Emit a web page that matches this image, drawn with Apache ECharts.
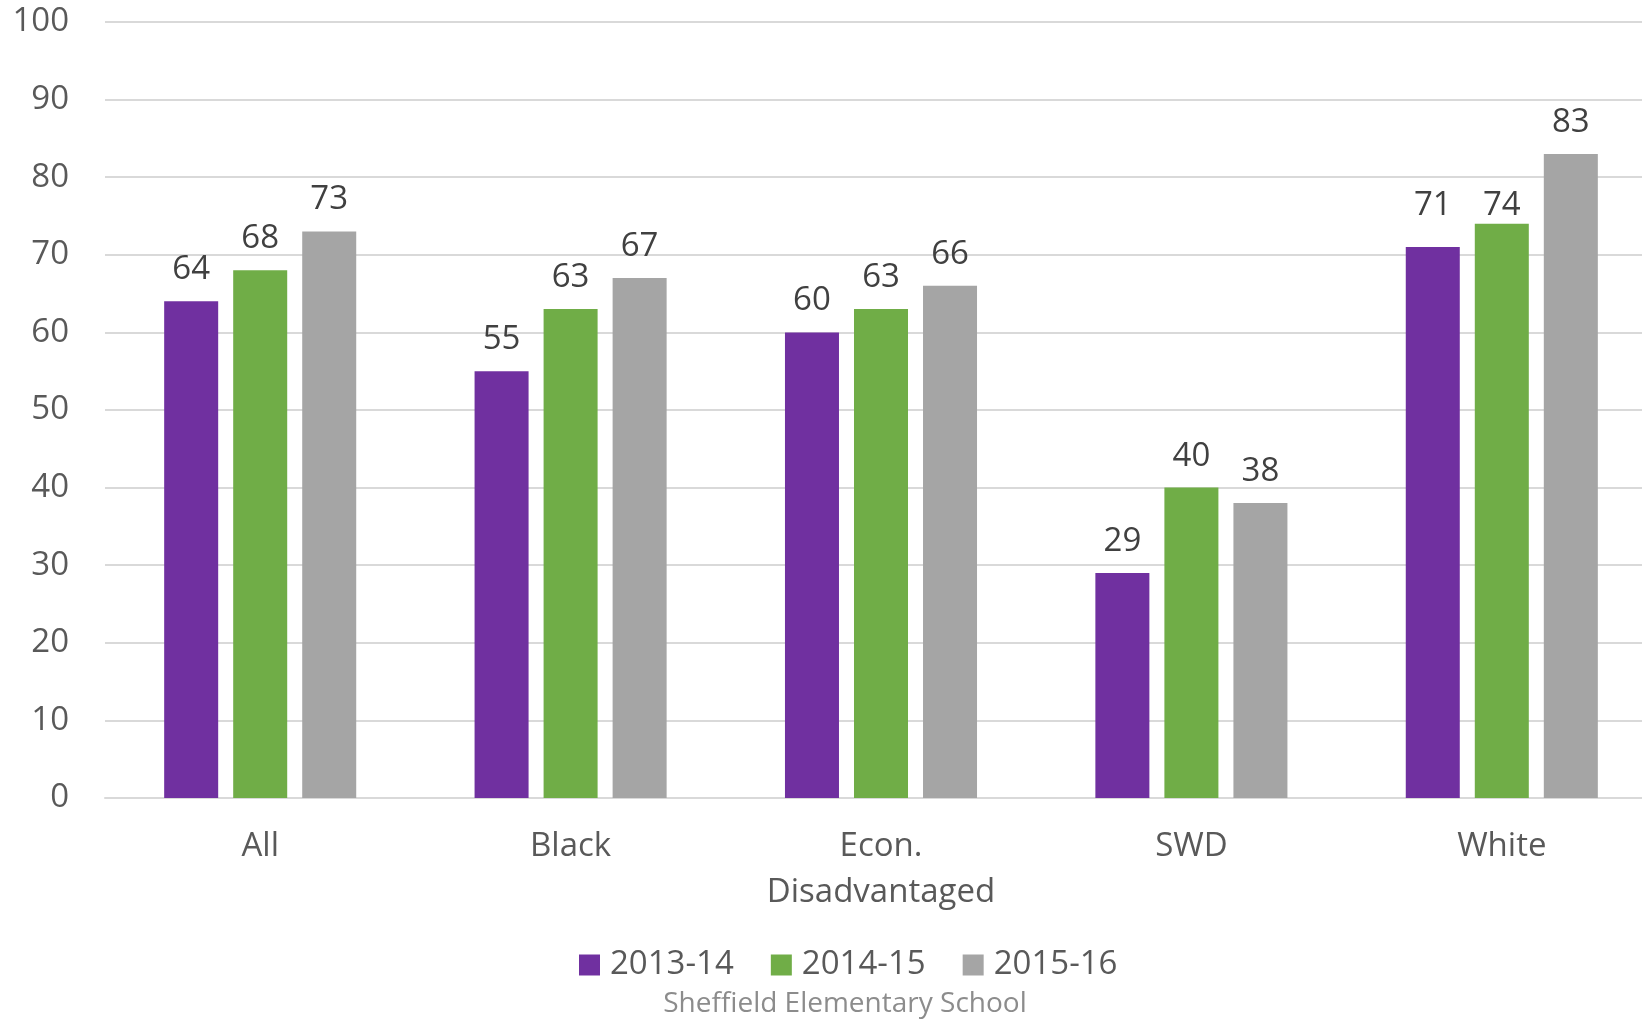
<!DOCTYPE html>
<html><head><meta charset="utf-8">
<script src="https://cdn.jsdelivr.net/npm/echarts@6/dist/echarts.min.js"></script>
<style>html,body{margin:0;padding:0;background:#fff;overflow:hidden;width:1642px;height:1020px}#c{width:1657px;height:1020px}</style>
</head><body><div id="c"></div>
<script>
const categories = ['All', 'Black', 'Econ.\nDisadvantaged', 'SWD', 'White'];
const seriesNames = ['2013-14', '2014-15', '2015-16'];
const values2013 = [64, 55, 60, 29, 71];
const values2014 = [68, 63, 63, 40, 74];
const values2015 = [73, 67, 66, 38, 83];
const yTicks = [0, 10, 20, 30, 40, 50, 60, 70, 80, 90, 100];
const subtitle = 'Sheffield Elementary School';

// label nudges (layout only), keyed by series index and category index
const labelNudge = { '0-4': -10, '1-4': 13 };

const colors = ['#7030A0', '#70AD47', '#A5A5A5'];
const FONT = 'Open Sans';
const FS = 33;
const chart = echarts.init(document.getElementById('c'));
const mk = (name, data, i) => ({
  name, type: 'bar',
  data: data.map((v, j) => {
    const n = labelNudge[i + '-' + j];
    return n ? { value: v, label: { offset: [0, n] } } : v;
  }),
  barWidth: '17.4%', barGap: '27.8%',
  itemStyle: { color: colors[i] },
  label: { show: true, position: 'top', distance: 15, color: '#404040', fontFamily: FONT, fontSize: FS }
});
chart.setOption({
  animation: false,
  textStyle: { fontFamily: FONT },
  grid: { left: 105, right: 0, top: 22, bottom: 222, containLabel: false },
  legend: {
    left: 574, top: 940, itemWidth: 21, itemHeight: 21, itemGap: 37,
    icon: 'rect', data: seriesNames,
    textStyle: { color: '#595959', fontSize: FS, fontFamily: FONT, lineHeight: 40, padding: [0, 0, 0, 5] }
  },
  xAxis: {
    type: 'category', data: categories,
    axisLine: { lineStyle: { color: '#D9D9D9', width: 2 } },
    axisTick: { show: false },
    axisLabel: { color: '#595959', fontSize: FS, fontFamily: FONT, margin: 26, lineHeight: 46 }
  },
  yAxis: {
    type: 'value', min: yTicks[0], max: yTicks[yTicks.length - 1], interval: 10,
    axisLine: { show: false }, axisTick: { show: false },
    splitLine: { lineStyle: { color: '#D9D9D9', width: 2 } },
    axisLabel: { color: '#595959', fontSize: FS, fontFamily: FONT, margin: 36 }
  },
  graphic: [{
    type: 'text', x: 845, y: 1004,
    style: { text: subtitle, fill: '#8C8C8C', font: '28px "' + FONT + '"', textAlign: 'center', textVerticalAlign: 'middle' }
  }],
  series: [mk(seriesNames[0], values2013, 0), mk(seriesNames[1], values2014, 1), mk(seriesNames[2], values2015, 2)]
});
</script></body></html>
